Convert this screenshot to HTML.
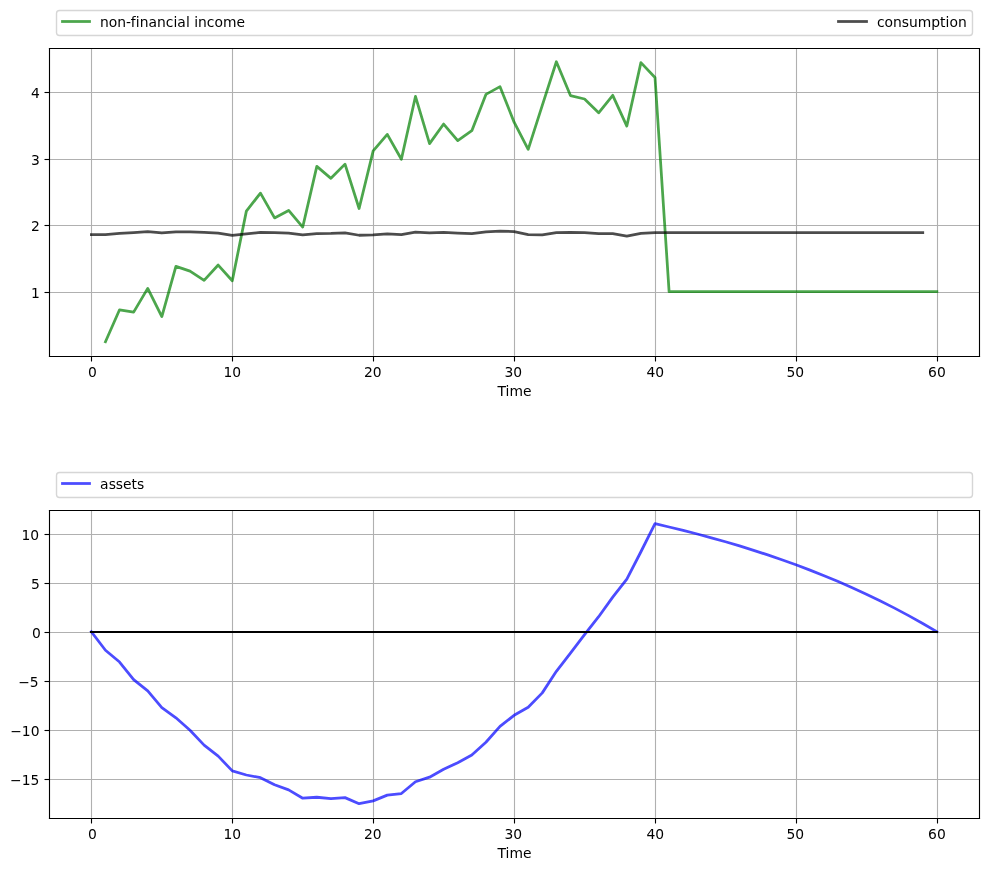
<!DOCTYPE html>
<html><head><meta charset="utf-8"><title>Permanent income: income, consumption and assets</title>
<style>html,body{margin:0;padding:0;background:#fff;}svg{display:block;}
text{font-family:"DejaVu Sans","Liberation Sans",sans-serif;}</style></head>
<body>
<svg width="989" height="871" viewBox="72.648 52.040 712.080 627.120" version="1.1">
<defs>
<style type="text/css">*{stroke-linejoin: round; stroke-linecap: butt}</style>
</defs>
<g>
<g id="patch_1">
<path d="M 0 720
L 864 720
L 864 0
L 0 0
z
" style="fill: #ffffff"/>
</g>
<g>
<g id="patch_2">
<path d="M 108 308.16
L 777.6 308.16
L 777.6 86.4
L 108 86.4
z
" style="fill: #ffffff"/>
</g>
<g>
<g>
<path d="M 138.528 308.72 L 138.528 86.96" clip-path="url(#pca305a138f)" style="fill: none; stroke: #b0b0b0; stroke-width: 0.8; stroke-linecap: square"/>
<g>
<path d="M 138.528 308.72 L 138.528 312.32" style="stroke: #000000; stroke-width: 0.8"/>
</g>
<g>
<text style="font-size: 10px; font-family: 'DejaVu Sans', sans-serif" x="135.930" y="323.600">0</text>
</g>
</g>
<g>
<path d="M 240.048 308.72 L 240.048 86.96" clip-path="url(#pca305a138f)" style="fill: none; stroke: #b0b0b0; stroke-width: 0.8; stroke-linecap: square"/>
<g>
<path d="M 240.048 308.72 L 240.048 312.32" style="stroke: #000000; stroke-width: 0.8"/>
</g>
<g>
<text style="font-size: 10px; font-family: 'DejaVu Sans', sans-serif" x="233.516 239.906" y="323.537">10</text>
</g>
</g>
<g>
<path d="M 341.568 308.72 L 341.568 86.96" clip-path="url(#pca305a138f)" style="fill: none; stroke: #b0b0b0; stroke-width: 0.8; stroke-linecap: square"/>
<g>
<path d="M 341.568 308.72 L 341.568 312.32" style="stroke: #000000; stroke-width: 0.8"/>
</g>
<g>
<text style="font-size: 10px; font-family: 'DejaVu Sans', sans-serif" x="334.760 341.060" y="323.534">20</text>
</g>
</g>
<g>
<path d="M 443.088 308.72 L 443.088 86.96" clip-path="url(#pca305a138f)" style="fill: none; stroke: #b0b0b0; stroke-width: 0.8; stroke-linecap: square"/>
<g>
<path d="M 443.088 308.72 L 443.088 312.32" style="stroke: #000000; stroke-width: 0.8"/>
</g>
<g>
<text style="font-size: 10px; font-family: 'DejaVu Sans', sans-serif" x="435.914 442.214" y="323.522">30</text>
</g>
</g>
<g>
<path d="M 544.608 308.72 L 544.608 86.96" clip-path="url(#pca305a138f)" style="fill: none; stroke: #b0b0b0; stroke-width: 0.8; stroke-linecap: square"/>
<g>
<path d="M 544.608 308.72 L 544.608 312.32" style="stroke: #000000; stroke-width: 0.8"/>
</g>
<g>
<text style="font-size: 10px; font-family: 'DejaVu Sans', sans-serif" x="538.167 544.467" y="323.498">40</text>
</g>
</g>
<g>
<path d="M 646.128 308.72 L 646.128 86.96" clip-path="url(#pca305a138f)" style="fill: none; stroke: #b0b0b0; stroke-width: 0.8; stroke-linecap: square"/>
<g>
<path d="M 646.128 308.72 L 646.128 312.32" style="stroke: #000000; stroke-width: 0.8"/>
</g>
<g>
<text style="font-size: 10px; font-family: 'DejaVu Sans', sans-serif" x="638.913 645.213" y="323.603">50</text>
</g>
</g>
<g>
<path d="M 747.648 308.72 L 747.648 86.96" clip-path="url(#pca305a138f)" style="fill: none; stroke: #b0b0b0; stroke-width: 0.8; stroke-linecap: square"/>
<g>
<path d="M 747.648 308.72 L 747.648 312.32" style="stroke: #000000; stroke-width: 0.8"/>
</g>
<g>
<text style="font-size: 10px; font-family: 'DejaVu Sans', sans-serif" x="740.880 747.270" y="323.621">60</text>
</g>
</g>
<g>
<text style="font-size: 10px; font-family: 'DejaVu Sans', sans-serif" x="430.837 436.687 439.477 449.197" y="337.326">Time</text>
</g>
</g>
<g>
<g>
<path d="M 108.288 262.64 L 777.888 262.64" clip-path="url(#pca305a138f)" style="fill: none; stroke: #b0b0b0; stroke-width: 0.8; stroke-linecap: square"/>
<g>
<path d="M 108.288 262.64 L 104.688 262.64" style="stroke: #000000; stroke-width: 0.8"/>
</g>
<g>
<text style="font-size: 10px; font-family: 'DejaVu Sans', sans-serif" x="95.062" y="266.823">1</text>
</g>
</g>
<g>
<path d="M 108.288 214.4 L 777.888 214.4" clip-path="url(#pca305a138f)" style="fill: none; stroke: #b0b0b0; stroke-width: 0.8; stroke-linecap: square"/>
<g>
<path d="M 108.288 214.4 L 104.688 214.4" style="stroke: #000000; stroke-width: 0.8"/>
</g>
<g>
<text style="font-size: 10px; font-family: 'DejaVu Sans', sans-serif" x="94.993" y="218.106">2</text>
</g>
</g>
<g>
<path d="M 108.288 166.88 L 777.888 166.88" clip-path="url(#pca305a138f)" style="fill: none; stroke: #b0b0b0; stroke-width: 0.8; stroke-linecap: square"/>
<g>
<path d="M 108.288 166.88 L 104.688 166.88" style="stroke: #000000; stroke-width: 0.8"/>
</g>
<g>
<text style="font-size: 10px; font-family: 'DejaVu Sans', sans-serif" x="94.992" y="170.791">3</text>
</g>
</g>
<g>
<path d="M 108.288 118.64 L 777.888 118.64" clip-path="url(#pca305a138f)" style="fill: none; stroke: #b0b0b0; stroke-width: 0.8; stroke-linecap: square"/>
<g>
<path d="M 108.288 118.64 L 104.688 118.64" style="stroke: #000000; stroke-width: 0.8"/>
</g>
<g>
<text style="font-size: 10px; font-family: 'DejaVu Sans', sans-serif" x="94.899" y="122.747">4</text>
</g>
</g>
</g>
<path d="M 148.581 298.08
L 158.727 275.088
L 168.872 276.768
L 179.018 259.68
L 189.163 279.936
L 199.309 243.84
L 209.454 247.296
L 219.6 253.92
L 229.745 242.88
L 239.890 254.16
L 250.036 204.048
L 260.181 191.088
L 270.327 208.944
L 280.472 203.568
L 290.618 215.52
L 300.763 171.84
L 310.909 180.432
L 321.054 170.208
L 331.2 202.176
L 341.345 160.656
L 351.490 148.8
L 361.636 166.656
L 371.781 121.488
L 381.927 155.424
L 392.072 141.36
L 402.218 153.264
L 412.363 146.16
L 422.509 120
L 432.654 114.432
L 442.8 140.016
L 452.945 159.552
L 463.090 127.92
L 473.236 96.48
L 483.381 120.864
L 493.527 123.312
L 503.672 133.248
L 513.818 120.672
L 523.963 142.8
L 534.109 97.104
L 544.254 107.856
L 554.4 262.065
L 564.545 262.065
L 574.690 262.065
L 584.836 262.065
L 594.981 262.065
L 605.127 262.065
L 615.272 262.065
L 625.418 262.065
L 635.563 262.065
L 645.709 262.065
L 655.854 262.065
L 666 262.065
L 676.145 262.065
L 686.290 262.065
L 696.436 262.065
L 706.581 262.065
L 716.727 262.065
L 726.872 262.065
L 737.018 262.065
L 747.163 262.065
" clip-path="url(#pca305a138f)" style="fill: none; stroke: #008000; stroke-opacity: 0.7; stroke-width: 2; stroke-linecap: square"/>
<path d="M 138.436 220.992
L 148.581 220.896
L 158.727 220.128
L 168.872 219.552
L 179.018 218.784
L 189.163 219.792
L 199.309 219.024
L 209.454 218.928
L 219.6 219.36
L 229.745 219.888
L 239.890 221.472
L 250.036 220.416
L 260.181 219.36
L 270.327 219.552
L 280.472 219.84
L 290.618 221.136
L 300.763 220.224
L 310.909 220.08
L 321.054 219.648
L 331.2 221.424
L 341.345 221.136
L 351.490 220.416
L 361.636 220.992
L 371.781 219.216
L 381.927 219.648
L 392.072 219.36
L 402.218 219.888
L 412.363 220.32
L 422.509 219.024
L 432.654 218.4
L 442.8 218.784
L 452.945 220.896
L 463.090 221.184
L 473.236 219.552
L 483.381 219.36
L 493.527 219.552
L 503.672 220.224
L 513.818 220.224
L 523.963 222
L 534.109 220.08
L 544.254 219.6
L 554.4 219.6
L 564.545 219.6
L 574.690 219.6
L 584.836 219.6
L 594.981 219.6
L 605.127 219.6
L 615.272 219.6
L 625.418 219.6
L 635.563 219.6
L 645.709 219.6
L 655.854 219.6
L 666 219.6
L 676.145 219.6
L 686.290 219.6
L 696.436 219.6
L 706.581 219.6
L 716.727 219.6
L 726.872 219.6
L 737.018 219.6
" clip-path="url(#pca305a138f)" style="fill: none; stroke: #000000; stroke-opacity: 0.7; stroke-width: 2; stroke-linecap: square"/>
<g id="patch_3">
<path d="M 108.288 308.72 L 108.288 86.96" style="fill: none; stroke: #000000; stroke-width: 0.8; stroke-linejoin: miter; stroke-linecap: square"/>
</g>
<g id="patch_4">
<path d="M 777.888 308.72 L 777.888 86.96" style="fill: none; stroke: #000000; stroke-width: 0.8; stroke-linejoin: miter; stroke-linecap: square"/>
</g>
<g id="patch_5">
<path d="M 108.288 308.72 L 777.888 308.72" style="fill: none; stroke: #000000; stroke-width: 0.8; stroke-linejoin: miter; stroke-linecap: square"/>
</g>
<g id="patch_6">
<path d="M 108.288 86.96 L 777.888 86.96" style="fill: none; stroke: #000000; stroke-width: 0.8; stroke-linejoin: miter; stroke-linecap: square"/>
</g>
<g>
<g id="patch_7">
<path d="M 115.488 77.6 L 770.688 77.6 Q 772.848 77.6 772.848 75.44 L 772.848 61.76 Q 772.848 59.6 770.688 59.6 L 115.488 59.6 Q 113.328 59.6 113.328 61.76 L 113.328 75.44 Q 113.328 77.6 115.488 77.6 z" style="fill: #ffffff; opacity: 0.8; stroke: #cccccc; stroke-linejoin: miter"/>
</g>
<path d="M 117.648 67.52 L 127.008 67.52 L 137.088 67.52" style="fill: none; stroke: #008000; stroke-opacity: 0.7; stroke-width: 2; stroke-linecap: square"/>
<g>
<text style="font-size: 10px; font-family: 'DejaVu Sans', sans-serif" x="144.612 150.912 157.032 163.332 166.842 170.442 173.232 179.532 185.742 192.042 197.532 200.322 206.532 209.322 212.472 215.262 221.562 227.052 233.172 242.892" y="71.659">non-financial income</text>
</g>
<path d="M 676.368 67.52 L 686.448 67.52 L 696.528 67.52" style="fill: none; stroke: #000000; stroke-opacity: 0.7; stroke-width: 2; stroke-linecap: square"/>
<g>
<text style="font-size: 10px; font-family: 'DejaVu Sans', sans-serif" x="704.084 709.574 715.694 721.994 727.124 733.424 743.144 749.534 753.494 756.284 762.404" y="71.610">consumption</text>
</g>
</g>
</g>
<g>
<g id="patch_8">
<path d="M 108 640.8
L 777.6 640.8
L 777.6 419.04
L 108 419.04
z
" style="fill: #ffffff"/>
</g>
<g>
<g>
<path d="M 138.528 641.36 L 138.528 419.6" clip-path="url(#pbd3be93362)" style="fill: none; stroke: #b0b0b0; stroke-width: 0.8; stroke-linecap: square"/>
<g>
<path d="M 138.528 641.36 L 138.528 644.96" style="stroke: #000000; stroke-width: 0.8"/>
</g>
<g>
<text style="font-size: 10px; font-family: 'DejaVu Sans', sans-serif" x="135.930" y="656.240">0</text>
</g>
</g>
<g>
<path d="M 240.048 641.36 L 240.048 419.6" clip-path="url(#pbd3be93362)" style="fill: none; stroke: #b0b0b0; stroke-width: 0.8; stroke-linecap: square"/>
<g>
<path d="M 240.048 641.36 L 240.048 644.96" style="stroke: #000000; stroke-width: 0.8"/>
</g>
<g>
<text style="font-size: 10px; font-family: 'DejaVu Sans', sans-serif" x="233.516 239.906" y="656.177">10</text>
</g>
</g>
<g>
<path d="M 341.568 641.36 L 341.568 419.6" clip-path="url(#pbd3be93362)" style="fill: none; stroke: #b0b0b0; stroke-width: 0.8; stroke-linecap: square"/>
<g>
<path d="M 341.568 641.36 L 341.568 644.96" style="stroke: #000000; stroke-width: 0.8"/>
</g>
<g>
<text style="font-size: 10px; font-family: 'DejaVu Sans', sans-serif" x="334.760 341.060" y="656.174">20</text>
</g>
</g>
<g>
<path d="M 443.088 641.36 L 443.088 419.6" clip-path="url(#pbd3be93362)" style="fill: none; stroke: #b0b0b0; stroke-width: 0.8; stroke-linecap: square"/>
<g>
<path d="M 443.088 641.36 L 443.088 644.96" style="stroke: #000000; stroke-width: 0.8"/>
</g>
<g>
<text style="font-size: 10px; font-family: 'DejaVu Sans', sans-serif" x="435.914 442.214" y="656.162">30</text>
</g>
</g>
<g>
<path d="M 544.608 641.36 L 544.608 419.6" clip-path="url(#pbd3be93362)" style="fill: none; stroke: #b0b0b0; stroke-width: 0.8; stroke-linecap: square"/>
<g>
<path d="M 544.608 641.36 L 544.608 644.96" style="stroke: #000000; stroke-width: 0.8"/>
</g>
<g>
<text style="font-size: 10px; font-family: 'DejaVu Sans', sans-serif" x="538.167 544.467" y="656.138">40</text>
</g>
</g>
<g>
<path d="M 646.128 641.36 L 646.128 419.6" clip-path="url(#pbd3be93362)" style="fill: none; stroke: #b0b0b0; stroke-width: 0.8; stroke-linecap: square"/>
<g>
<path d="M 646.128 641.36 L 646.128 644.96" style="stroke: #000000; stroke-width: 0.8"/>
</g>
<g>
<text style="font-size: 10px; font-family: 'DejaVu Sans', sans-serif" x="638.913 645.213" y="656.243">50</text>
</g>
</g>
<g>
<path d="M 747.648 641.36 L 747.648 419.6" clip-path="url(#pbd3be93362)" style="fill: none; stroke: #b0b0b0; stroke-width: 0.8; stroke-linecap: square"/>
<g>
<path d="M 747.648 641.36 L 747.648 644.96" style="stroke: #000000; stroke-width: 0.8"/>
</g>
<g>
<text style="font-size: 10px; font-family: 'DejaVu Sans', sans-serif" x="740.880 747.270" y="656.261">60</text>
</g>
</g>
<g>
<text style="font-size: 10px; font-family: 'DejaVu Sans', sans-serif" x="430.837 436.687 439.477 449.197" y="669.966">Time</text>
</g>
</g>
<g>
<g>
<path d="M 108.288 613.28 L 777.888 613.28" clip-path="url(#pbd3be93362)" style="fill: none; stroke: #b0b0b0; stroke-width: 0.8; stroke-linecap: square"/>
<g>
<path d="M 108.288 613.28 L 104.688 613.28" style="stroke: #000000; stroke-width: 0.8"/>
</g>
<g>
<text style="font-size: 10px; font-family: 'DejaVu Sans', sans-serif" x="79.930 88.300 94.690" y="617.295">−15</text>
</g>
</g>
<g>
<path d="M 108.288 578 L 777.888 578" clip-path="url(#pbd3be93362)" style="fill: none; stroke: #b0b0b0; stroke-width: 0.8; stroke-linecap: square"/>
<g>
<path d="M 108.288 578 L 104.688 578" style="stroke: #000000; stroke-width: 0.8"/>
</g>
<g>
<text style="font-size: 10px; font-family: 'DejaVu Sans', sans-serif" x="79.954 88.324 94.714" y="582.010">−10</text>
</g>
</g>
<g>
<path d="M 108.288 542.72 L 777.888 542.72" clip-path="url(#pbd3be93362)" style="fill: none; stroke: #b0b0b0; stroke-width: 0.8; stroke-linecap: square"/>
<g>
<path d="M 108.288 542.72 L 104.688 542.72" style="stroke: #000000; stroke-width: 0.8"/>
</g>
<g>
<text style="font-size: 10px; font-family: 'DejaVu Sans', sans-serif" x="85.780 94.150" y="546.764">−5</text>
</g>
</g>
<g>
<path d="M 108.288 507.44 L 777.888 507.44" clip-path="url(#pbd3be93362)" style="fill: none; stroke: #b0b0b0; stroke-width: 0.8; stroke-linecap: square"/>
<g>
<path d="M 108.288 507.44 L 104.688 507.44" style="stroke: #000000; stroke-width: 0.8"/>
</g>
<g>
<text style="font-size: 10px; font-family: 'DejaVu Sans', sans-serif" x="95.709" y="511.525">0</text>
</g>
</g>
<g>
<path d="M 108.288 472.16 L 777.888 472.16" clip-path="url(#pbd3be93362)" style="fill: none; stroke: #b0b0b0; stroke-width: 0.8; stroke-linecap: square"/>
<g>
<path d="M 108.288 472.16 L 104.688 472.16" style="stroke: #000000; stroke-width: 0.8"/>
</g>
<g>
<text style="font-size: 10px; font-family: 'DejaVu Sans', sans-serif" x="95.032" y="476.229">5</text>
</g>
</g>
<g>
<path d="M 108.288 436.88 L 777.888 436.88" clip-path="url(#pbd3be93362)" style="fill: none; stroke: #b0b0b0; stroke-width: 0.8; stroke-linecap: square"/>
<g>
<path d="M 108.288 436.88 L 104.688 436.88" style="stroke: #000000; stroke-width: 0.8"/>
</g>
<g>
<text style="font-size: 10px; font-family: 'DejaVu Sans', sans-serif" x="88.113 94.503" y="440.898">10</text>
</g>
</g>
</g>
<path d="M 138.436 506.881
L 148.581 520.217
L 158.727 528.685
L 168.872 541.316
L 179.018 549.501
L 189.163 561.567
L 199.309 568.835
L 209.454 577.797
L 219.6 588.523
L 229.745 596.426
L 239.890 607.081
L 250.036 610.044
L 260.181 611.950
L 270.327 617.030
L 280.472 620.770
L 290.618 626.768
L 300.763 626.062
L 310.909 627.050
L 321.054 626.345
L 331.2 630.72
L 341.345 628.673
L 351.490 624.510
L 361.636 623.381
L 371.781 614.913
L 381.927 611.597
L 392.072 605.952
L 402.218 601.153
L 412.363 595.649
L 422.509 586.476
L 432.654 575.045
L 442.8 567.071
L 452.945 561.285
L 463.090 550.912
L 473.236 535.388
L 483.381 522.334
L 493.527 508.997
L 503.672 496.084
L 513.818 481.972
L 523.963 468.988
L 534.109 449.301
L 544.254 429.12
L 554.4 431.471
L 564.545 433.940
L 574.690 436.533
L 584.836 439.256
L 594.981 442.114
L 605.127 445.116
L 615.272 448.267
L 625.418 451.576
L 635.563 455.051
L 645.709 458.699
L 655.854 462.530
L 666 466.552
L 676.145 470.775
L 686.290 475.209
L 696.436 479.866
L 706.581 484.755
L 716.727 489.888
L 726.872 495.278
L 737.018 500.938
L 747.163 506.881
" clip-path="url(#pbd3be93362)" style="fill: none; stroke: #0000ff; stroke-opacity: 0.7; stroke-width: 2; stroke-linecap: square"/>
<path d="M 138.168 507.08 L 148.248 507.08 L 159.048 507.08 L 169.128 507.08 L 179.208 507.08 L 189.288 507.08 L 199.368 507.08 L 209.448 507.08 L 219.528 507.08 L 229.608 507.08 L 239.688 507.08 L 249.768 507.08 L 259.848 507.08 L 270.648 507.08 L 280.728 507.08 L 290.808 507.08 L 300.888 507.08 L 310.968 507.08 L 321.048 507.08 L 331.128 507.08 L 341.208 507.08 L 351.288 507.08 L 361.368 507.08 L 371.448 507.08 L 382.248 507.08 L 392.328 507.08 L 402.408 507.08 L 412.488 507.08 L 422.568 507.08 L 432.648 507.08 L 442.728 507.08 L 452.808 507.08 L 462.888 507.08 L 472.968 507.08 L 483.048 507.08 L 493.848 507.08 L 503.928 507.08 L 514.008 507.08 L 524.088 507.08 L 534.168 507.08 L 544.248 507.08 L 554.328 507.08 L 564.408 507.08 L 574.488 507.08 L 584.568 507.08 L 594.648 507.08 L 605.448 507.08 L 615.528 507.08 L 625.608 507.08 L 635.688 507.08 L 645.768 507.08 L 655.848 507.08 L 665.928 507.08 L 676.008 507.08 L 686.088 507.08 L 696.168 507.08 L 706.248 507.08 L 717.048 507.08 L 727.128 507.08 L 737.208 507.08 L 747.288 507.08" clip-path="url(#pbd3be93362)" style="fill: none; stroke: #000000; stroke-width: 1.5; stroke-linecap: square"/>
<g id="patch_9">
<path d="M 108.288 641.36 L 108.288 419.6" style="fill: none; stroke: #000000; stroke-width: 0.8; stroke-linejoin: miter; stroke-linecap: square"/>
</g>
<g id="patch_10">
<path d="M 777.888 641.36 L 777.888 419.6" style="fill: none; stroke: #000000; stroke-width: 0.8; stroke-linejoin: miter; stroke-linecap: square"/>
</g>
<g id="patch_11">
<path d="M 108.288 641.36 L 777.888 641.36" style="fill: none; stroke: #000000; stroke-width: 0.8; stroke-linejoin: miter; stroke-linecap: square"/>
</g>
<g id="patch_12">
<path d="M 108.288 419.6 L 777.888 419.6" style="fill: none; stroke: #000000; stroke-width: 0.8; stroke-linejoin: miter; stroke-linecap: square"/>
</g>
<g>
<g id="patch_13">
<path d="M 115.488 410.24 L 770.688 410.24 Q 772.848 410.24 772.848 408.08 L 772.848 394.4 Q 772.848 392.24 770.688 392.24 L 115.488 392.24 Q 113.328 392.24 113.328 394.4 L 113.328 408.08 Q 113.328 410.24 115.488 410.24 z" style="fill: #ffffff; opacity: 0.8; stroke: #cccccc; stroke-linejoin: miter"/>
</g>
<path d="M 117.648 400.16 L 127.008 400.16 L 137.088 400.16" style="fill: none; stroke: #0000ff; stroke-opacity: 0.7; stroke-width: 2; stroke-linecap: square"/>
<g>
<text style="font-size: 10px; font-family: 'DejaVu Sans', sans-serif" x="144.683 150.893 156.023 161.153 167.273 171.233" y="404.226">assets</text>
</g>
</g>
</g>
</g>
<defs>
<clipPath id="pca305a138f">
<rect x="108" y="86.4" width="669.6" height="221.76"/>
</clipPath>
<clipPath id="pbd3be93362">
<rect x="108" y="419.04" width="669.6" height="221.76"/>
</clipPath>
</defs>
</svg>

</body></html>
